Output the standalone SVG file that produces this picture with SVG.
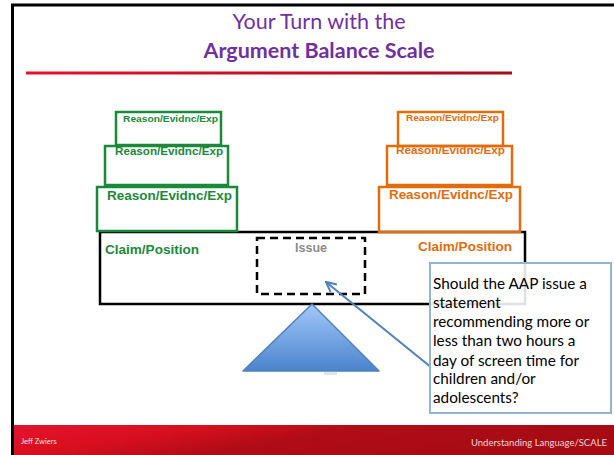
<svg xmlns="http://www.w3.org/2000/svg" width="614" height="455" viewBox="0 0 614 455">
  <style>
    .title { font-family: Lato, "Open Sans", sans-serif; fill: #7030A0; text-anchor: middle; }
    .g { fill: none; stroke: #1A8A3A; stroke-width: 2.5; }
    .o { fill: none; stroke: #E36C0A; stroke-width: 2.5; }
    .gt { font-family: "Liberation Sans", Arial, sans-serif; font-weight: bold; fill: #1A8A3A; }
    .ot { font-family: "Liberation Sans", Arial, sans-serif; font-weight: bold; fill: #E36C0A; }
    .q { font-family: Lato, "Open Sans", sans-serif; font-size: 15.3px; fill: #000; }
  </style>
  <defs>
    <linearGradient id="rule" x1="0" x2="1" y1="0" y2="0">
      <stop offset="0" stop-color="#E8102A"/>
      <stop offset="1" stop-color="#A30E1C"/>
    </linearGradient>
    <linearGradient id="footer" x1="0" x2="1" y1="0" y2="0.3">
      <stop offset="0" stop-color="#E5122E"/>
      <stop offset="0.3" stop-color="#D80F1E"/>
      <stop offset="0.55" stop-color="#B00C16"/>
      <stop offset="1" stop-color="#A60B14"/>
    </linearGradient>
    <linearGradient id="fulcrum" x1="0" x2="0" y1="0" y2="1">
      <stop offset="0" stop-color="#A3C8FA"/>
      <stop offset="1" stop-color="#4A84CC"/>
    </linearGradient>
    <marker id="open" viewBox="0 0 12 12" refX="11" refY="6" markerWidth="12" markerHeight="12" markerUnits="userSpaceOnUse" orient="auto">
      <path d="M1,1 L11,6 L1,11" fill="none" stroke="#4F81BD" stroke-width="2"/>
    </marker>
  </defs>

  <!-- slide frame -->
  <rect x="0" y="0" width="614" height="455" fill="#fff"/>
  <path d="M12.5,455 V5 H614" fill="none" stroke="#000" stroke-width="3"/>

  <!-- heading -->
  <text class="title" x="319" y="29" font-size="21.5">Your Turn with the</text>
  <text class="title" x="319" y="58" font-size="21.5" font-weight="bold">Argument Balance Scale</text>
  <rect x="26" y="71.5" width="486" height="3" fill="url(#rule)"/>

  <!-- beam -->
  <g id="beam">
    <rect x="100" y="232" width="425" height="72" fill="#fff" stroke="#000" stroke-width="2.5"/>
    <text class="gt" x="105" y="254" font-size="12.5" textLength="94" lengthAdjust="spacingAndGlyphs">Claim/Position</text>
    <text class="ot" x="418" y="251" font-size="12.5" textLength="94" lengthAdjust="spacingAndGlyphs">Claim/Position</text>
  </g>

  <!-- issue slot -->
  <g id="issue">
    <rect x="257" y="238" width="108" height="56" fill="none" stroke="#000" stroke-width="2.5" stroke-dasharray="8 5"/>
    <text x="311" y="252" font-family="Liberation Sans, Arial, sans-serif" font-weight="bold" font-size="12.5" fill="#8C8C8C" text-anchor="middle">Issue</text>
  </g>

  <!-- left stack -->
  <g id="left-reason-1">
    <rect class="g" x="97" y="187" width="140" height="44"/>
    <text class="gt" x="107" y="200" font-size="12.5" textLength="125" lengthAdjust="spacingAndGlyphs">Reason/Evidnc/Exp</text>
  </g>
  <g id="left-reason-2">
    <rect class="g" x="105" y="146" width="123" height="39"/>
    <text class="gt" x="115" y="155" font-size="10.5" textLength="108" lengthAdjust="spacingAndGlyphs">Reason/Evidnc/Exp</text>
  </g>
  <g id="left-reason-3">
    <rect class="g" x="116" y="112" width="105" height="33"/>
    <text class="gt" x="123" y="122" font-size="9.5" textLength="95" lengthAdjust="spacingAndGlyphs">Reason/Evidnc/Exp</text>
  </g>

  <!-- right stack -->
  <g id="right-reason-1">
    <rect class="o" x="379" y="187" width="141" height="45"/>
    <text class="ot" x="389" y="199" font-size="12.5" textLength="124" lengthAdjust="spacingAndGlyphs">Reason/Evidnc/Exp</text>
  </g>
  <g id="right-reason-2">
    <rect class="o" x="387" y="146" width="125" height="39"/>
    <text class="ot" x="396" y="154" font-size="10.5" textLength="109" lengthAdjust="spacingAndGlyphs">Reason/Evidnc/Exp</text>
  </g>
  <g id="right-reason-3">
    <rect class="o" x="398" y="112" width="105" height="34"/>
    <text class="ot" x="406" y="121" font-size="9.5" textLength="93" lengthAdjust="spacingAndGlyphs">Reason/Evidnc/Exp</text>
  </g>

  <!-- fulcrum -->
  <g id="fulcrum-node">
    <rect x="324" y="372" width="13" height="3" fill="#E4E4E4"/>
    <polygon points="312,304 379,371 243,371" fill="url(#fulcrum)" stroke="#4F81BD" stroke-width="1.5" stroke-linejoin="round"/>
  </g>

  <!-- connectors -->
  <g id="connectors">
    <line x1="432" y1="368" x2="326" y2="282" stroke="#4F81BD" stroke-width="2" marker-end="url(#open)"/>
  </g>

  <!-- question callout -->
  <g id="question">
    <rect x="430" y="263" width="181" height="150" fill="#fff" fill-opacity="0.88" stroke="#95B3D7" stroke-width="2"/>
    <text class="q">
      <tspan x="433" y="289">Should the AAP issue a</tspan>
      <tspan x="433" y="308">statement</tspan>
      <tspan x="433" y="327">recommending more or</tspan>
      <tspan x="433" y="346">less than two hours a</tspan>
      <tspan x="433" y="366">day of screen time for</tspan>
      <tspan x="433" y="384">children and/or</tspan>
      <tspan x="433" y="403">adolescents?</tspan>
    </text>
  </g>

  <!-- footer band -->
  <rect x="14" y="425" width="600" height="30" fill="url(#footer)"/>
  <text x="21" y="444" font-family="Lato, Open Sans, sans-serif" font-size="7.5" fill="#FBE3E3">Jeff Zwiers</text>
  <text x="607" y="446" font-family="Lato, Open Sans, sans-serif" font-size="9.5" fill="#F7D4D4" text-anchor="end">Understanding Language/SCALE</text>
</svg>
